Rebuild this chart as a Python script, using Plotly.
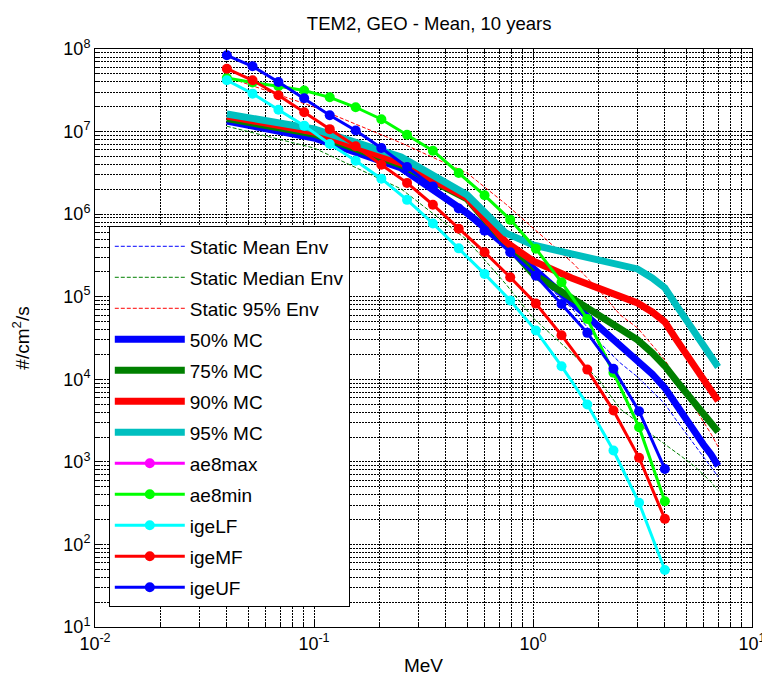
import plotly.graph_objects as go

# ---- data ----
ae8_energy = [0.04, 0.1, 0.25, 0.5, 0.75, 1.0, 1.5, 2.0, 2.5, 3.0, 3.5, 4.0, 4.5, 5.0, 5.5, 6.0, 6.5, 7.0]
ige_energy = [0.04, 0.0524, 0.0688, 0.0902, 0.118, 0.155, 0.203, 0.266, 0.349, 0.458,
              0.601, 0.787, 1.03, 1.35, 1.77, 2.33, 3.05, 4.0]

static_mean = [1.27e7, 8.14e6, 3.43e6, 1.03e6, 3.90e5, 1.94e5, 7.32e4, 2.84e4, 1.58e4,
               1.07e4, 7.24e3, 5.04e3, 3.23e3, 2.24e3, 1.61e3, 1.15e3, 8.70e2, 6.58e2]
static_median = [1.16e7, 6.33e6, 2.02e6, 4.87e5, 1.43e5, 5.54e4, 2.09e4, 9.83e3, 4.38e3,
                 3.05e3, 2.12e3, 1.65e3, 1.32e3, 1.06e3, 8.70e2, 6.96e2, 5.73e2, 4.46e2]
static_95 = [4.58e7, 1.99e7, 7.28e6, 3.15e6, 1.33e6, 6.81e5, 2.64e5, 1.21e5, 6.02e4,
             4.19e4, 2.61e4, 1.72e4, 1.04e4, 6.66e3, 4.51e3, 3.05e3, 2.18e3, 1.52e3]

mc50 = [1.34e7, 8.36e6, 3.62e6, 1.03e6, 4.36e5, 2.23e5, 8.90e4, 4.31e4, 2.61e4,
        1.77e4, 1.16e4, 7.87e3, 4.90e3, 3.30e3, 2.31e3, 1.62e3, 1.23e3, 8.95e2]
mc75 = [1.44e7, 9.35e6, 3.94e6, 1.53e6, 4.48e5, 1.89e5, 9.67e4, 6.02e4, 3.96e4,
        3.00e4, 2.09e4, 1.45e4, 9.72e3, 6.96e3, 5.15e3, 3.81e3, 3.02e3, 2.31e3]
mc90 = [1.545e7, 9.89e6, 4.17e6, 1.57e6, 4.61e5, 2.71e5, 1.69e5, 1.24e5, 9.94e4,
        8.41e4, 6.55e4, 4.95e4, 3.07e4, 2.05e4, 1.43e4, 9.97e3, 7.55e3, 5.48e3]
mc95 = [1.63e7, 1.08e7, 4.93e6, 1.71e6, 5.92e5, 4.24e5, 3.30e5, 2.79e5, 2.43e5,
        2.17e5, 1.69e5, 1.28e5, 7.96e4, 5.30e4, 3.70e4, 2.58e4, 1.95e4, 1.41e4]

# ae8max has no valid (plottable) values in this chart: legend entry only
ae8max_energy = [0.04]
ae8max = [None]
ae8min = [4.46e7, 3.93e7, 3.54e7, 3.15e7, 2.60e7, 1.97e7, 1.41e7, 9.17e6, 5.87e6,
          3.15e6, 1.69e6, 8.58e5, 3.82e5, 1.50e5, 5.39e4, 1.20e4, 2.63e3, 3.34e2]
igeLF = [4.18e7, 2.88e7, 1.84e7, 1.18e7, 7.08e6, 4.44e6, 2.69e6, 1.49e6, 7.72e5,
         3.85e5, 1.89e5, 9.02e4, 3.89e4, 1.44e4, 4.94e3, 1.37e3, 3.19e2, 4.89e1]
igeMF = [5.77e7, 4.18e7, 2.75e7, 1.71e7, 1.07e7, 6.64e6, 3.97e6, 2.39e6, 1.30e6,
         6.67e5, 3.46e5, 1.72e5, 8.25e4, 3.42e4, 1.31e4, 4.18e3, 1.12e3, 2.04e2]
igeUF = [8.39e7, 6.18e7, 3.98e7, 2.53e7, 1.58e7, 1.03e7, 6.33e6, 3.73e6, 2.16e6,
         1.17e6, 6.31e5, 3.46e5, 1.80e5, 8.18e4, 3.65e4, 1.34e4, 4.11e3, 8.2e2]

x_tick_vals = [0.01, 0.1, 1, 10]
x_tick_text = ["10<sup>-2</sup>", "10<sup>-1</sup>", "10<sup>0</sup>", "10<sup>1</sup>"]
y_tick_vals = [1e1, 1e2, 1e3, 1e4, 1e5, 1e6, 1e7, 1e8]
y_tick_text = ["10<sup>1</sup>", "10<sup>2</sup>", "10<sup>3</sup>", "10<sup>4</sup>",
               "10<sup>5</sup>", "10<sup>6</sup>", "10<sup>7</sup>", "10<sup>8</sup>"]

FONT = "Arial, Liberation Sans, Helvetica, sans-serif"

fig = go.Figure()

def add_line(name, x, y, color, width, dash="solid", marker=False):
    fig.add_trace(go.Scatter(
        x=x, y=y, name=name, legendgroup=name, showlegend=True,
        mode="lines+markers" if marker else "lines",
        line=dict(color=color, width=width, dash=dash),
        marker=dict(size=10, color=color) if marker else None,
    ))

add_line("Static Mean Env", ae8_energy, static_mean, "#0000FF", 1, "4px,2px")
add_line("Static Median Env", ae8_energy, static_median, "#008000", 1, "4px,2px")
add_line("Static 95% Env", ae8_energy, static_95, "#FF0000", 1, "4px,2px")
add_line("50% MC", ae8_energy, mc50, "#0000FF", 7)
add_line("75% MC", ae8_energy, mc75, "#008000", 7)
add_line("90% MC", ae8_energy, mc90, "#FF0000", 7)
add_line("95% MC", ae8_energy, mc95, "#00BFBF", 7)
add_line("ae8max", ae8max_energy, ae8max, "#FF00FF", 3, marker=True)
add_line("ae8min", ige_energy, ae8min, "#00FF00", 3, marker=True)
add_line("igeLF", ige_energy, igeLF, "#00FFFF", 3, marker=True)
add_line("igeMF", ige_energy, igeMF, "#FF0000", 3, marker=True)
add_line("igeUF", ige_energy, igeUF, "#0000FF", 3, marker=True)

axis_common = dict(
    type="log", showline=True, linecolor="black", linewidth=1, mirror="allticks",
    ticks="inside", ticklen=6, tickcolor="black",
    showgrid=True, gridcolor="black", griddash="2px,1px", gridwidth=1,
    zeroline=False,
    tickfont=dict(family=FONT, size=18, color="black"),
    minor=dict(dtick="D1", showgrid=True, gridcolor="black", griddash="2px,1px",
               gridwidth=1, ticks="inside", ticklen=3, tickcolor="black"),
)

fig.update_xaxes(range=[-2, 1], tickmode="array", tickvals=x_tick_vals, ticktext=x_tick_text,
                 title=dict(text="MeV", font=dict(family=FONT, size=19, color="black"), standoff=6),
                 **axis_common)
fig.update_yaxes(range=[1, 8], tickmode="array", tickvals=y_tick_vals, ticktext=y_tick_text,
                 title=dict(text="#/cm<sup>2</sup>/s", font=dict(family=FONT, size=19, color="black"), standoff=28),
                 **axis_common)

fig.update_layout(
    width=770, height=683,
    margin=dict(l=87, r=14, t=41, b=64),
    paper_bgcolor="white", plot_bgcolor="white",
    title=dict(text="TEM2, GEO - Mean, 10 years", x=0.547, xanchor="center", y=0.978, yanchor="middle",
               font=dict(family=FONT, size=18.5, color="black")),
    font=dict(family=FONT, size=18, color="black"),
    showlegend=True,
    legend=dict(x=0.021, y=0.693, xanchor="left", yanchor="top",
                bgcolor="white", bordercolor="black", borderwidth=1,
                font=dict(family=FONT, size=19, color="black"),
                tracegroupgap=3.3, itemwidth=70, traceorder="grouped"),
)

fig.write_html("out.html")
